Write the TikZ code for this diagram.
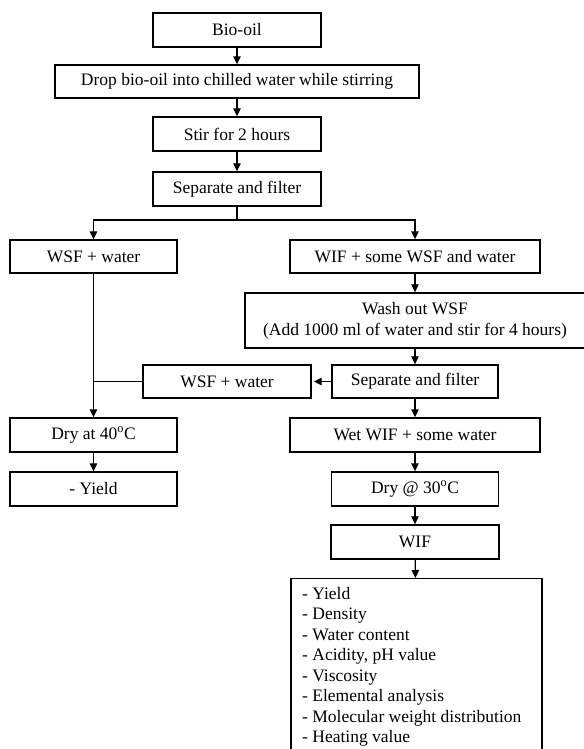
\documentclass[tikz,border=0pt]{standalone}
\usepackage{fontspec}
\setmainfont{Liberation Serif}
\usetikzlibrary{arrows.meta}
\begin{document}
\begin{tikzpicture}[x=1bp,y=-1bp,
  box/.style={draw,line width=1.4bp,inner sep=0pt,align=center,
    font=\fontsize{17.5bp}{21bp}\selectfont},
  arr/.style={line width=1.2bp,-{Triangle[length=8bp,width=7.5bp]}},
  ln/.style={line width=1.2bp}]
\useasboundingbox[fill=white] (0,0) rectangle (584,749);
\node[box,minimum width=168bp,minimum height=34bp] (bio) at (237,30) {Bio-oil};
\node[box,minimum width=364bp,minimum height=33bp] (drop) at (237,81.5) {Drop bio-oil into chilled water while stirring};
\node[box,minimum width=168bp,minimum height=34bp] (stir) at (237,134) {Stir for 2 hours};
\node[box,minimum width=168bp,minimum height=34bp] (sep) at (237,189) {Separate and filter};
\node[box,minimum width=167bp,minimum height=33bp] (wsf) at (93.5,256.5) {WSF + water};
\node[box,minimum width=250bp,minimum height=33bp] (wif) at (415,256.5) {WIF + some WSF and water};
\node[box,minimum width=340bp,minimum height=55bp] (wash) at (415,320.5) {Wash out WSF\\(Add 1000 ml of water and stir for 4 hours)};
\node[box,minimum width=166bp,minimum height=33bp] (sep2) at (415,381.5) {Separate and filter};
\node[box,minimum width=168bp,minimum height=33bp] (wsf2) at (227,381.5) {WSF + water};
\node[box,minimum width=167bp,minimum height=34bp] (dry40) at (93.5,435) {Dry at 40\textsuperscript{o}C};
\node[box,minimum width=167bp,minimum height=34bp] (yield) at (93.5,489) {- Yield};
\node[box,minimum width=250bp,minimum height=34bp] (wet) at (415,435) {Wet WIF + some water};
\node[box,minimum width=167bp,minimum height=34bp] (dry30) at (415,489) {Dry @ 30\textsuperscript{o}C};
\node[box,minimum width=168bp,minimum height=34bp] (wif2) at (415,542) {WIF};
\node[draw,line width=1.4bp,minimum width=251bp,minimum height=190bp,anchor=north] (final) at (416.5,578) {};
\node[anchor=north west,inner sep=0pt,align=left,
  font=\fontsize{17.5bp}{20.5bp}\selectfont] (list) at (302,587)
  {- Yield\\- Density\\- Water content\\- Acidity, pH value\\- Viscosity\\- Elemental analysis\\- Molecular weight distribution\\- Heating value};
\draw[arr] (bio) -- (drop);
\draw[arr] (drop) -- (stir);
\draw[arr] (stir) -- (sep);
\coordinate (br) at (237,220);
\draw[ln] (sep.south) -- (br);
\draw[arr] (br) -| (wsf.north);
\draw[arr] (br) -| (wif.north);
\draw[arr] (wif) -- (wash);
\draw[arr] (wash) -- (sep2);
\draw[arr] (sep2.west) -- ([xshift=2bp]wsf2.east);
\coordinate (jn) at (wsf.south |- wsf2.west);
\draw[ln] (wsf2.west) -- (jn);
\draw[arr] (wsf.south) -- (dry40.north);
\draw[arr] (sep2) -- (wet);
\draw[arr] (dry40) -- (yield);
\draw[arr] (wet) -- (dry30);
\draw[arr] (dry30) -- (wif2);
\draw[arr] (wif2) -- (final);
\end{tikzpicture}
\end{document}
